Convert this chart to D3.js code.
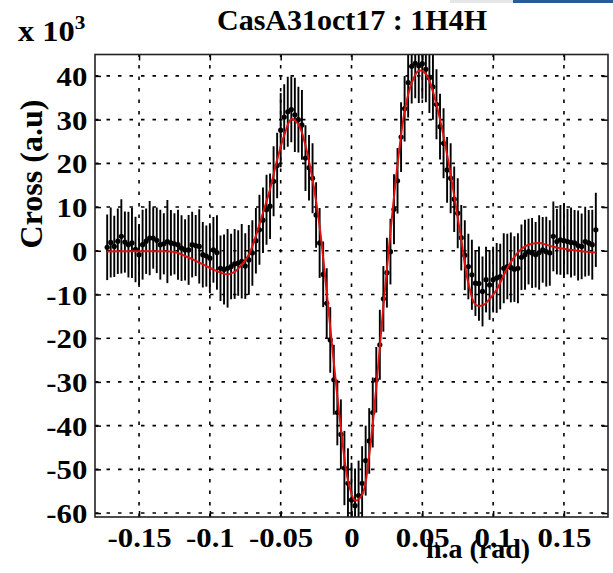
<!DOCTYPE html>
<html><head><meta charset="utf-8">
<script src="https://cdn.jsdelivr.net/npm/d3@7"></script>
<style>
html,body{margin:0;padding:0;background:#fff;}
svg text{font-family:"Liberation Serif","Times New Roman",serif;font-weight:bold;fill:#000;}
</style></head>
<body><svg id="chart" width="613" height="573"></svg>
<script>
// ---- data ----
const hourAngle = [
-0.1725,-0.1700,-0.1675,-0.1650,-0.1625,-0.1600,-0.1575,-0.1550,-0.1525,-0.1500,
-0.1475,-0.1450,-0.1425,-0.1400,-0.1375,-0.1350,-0.1325,-0.1300,-0.1275,-0.1250,
-0.1225,-0.1200,-0.1175,-0.1150,-0.1125,-0.1100,-0.1075,-0.1050,-0.1025,-0.1000,
-0.0975,-0.0950,-0.0925,-0.0900,-0.0875,-0.0850,-0.0825,-0.0800,-0.0775,-0.0750,
-0.0725,-0.0700,-0.0675,-0.0650,-0.0625,-0.0600,-0.0575,-0.0550,-0.0525,-0.0500,
-0.0475,-0.0450,-0.0425,-0.0400,-0.0375,-0.0350,-0.0325,-0.0300,-0.0275,-0.0250,
-0.0225,-0.0200,-0.0175,-0.0150,-0.0125,-0.0100,-0.0075,-0.0050,-0.0025,0.0000,
0.0025,0.0050,0.0075,0.0100,0.0125,0.0150,0.0175,0.0200,0.0225,0.0250,
0.0275,0.0300,0.0325,0.0350,0.0375,0.0400,0.0425,0.0450,0.0475,0.0500,
0.0525,0.0550,0.0575,0.0600,0.0625,0.0650,0.0675,0.0700,0.0725,0.0750,
0.0775,0.0800,0.0825,0.0850,0.0875,0.0900,0.0925,0.0950,0.0975,0.1000,
0.1025,0.1050,0.1075,0.1100,0.1125,0.1150,0.1175,0.1200,0.1225,0.1250,
0.1275,0.1300,0.1325,0.1350,0.1375,0.1400,0.1425,0.1450,0.1475,0.1500,
0.1525,0.1550,0.1575,0.1600,0.1625,0.1650,0.1675,0.1700,0.1725];
const crossVal = [
0.8,1.9,1.0,2.2,3.3,2.0,1.4,1.8,0.3,-0.9,
1.4,2.2,2.9,2.9,2.4,1.4,1.6,2.1,1.8,1.6,
1.4,0.6,0.2,0.2,1.4,1.2,1.0,-0.9,-1.2,-1.7,
0.2,-0.4,-4.0,-4.3,-4.0,-3.6,-3.0,-2.8,-2.4,-3.5,
-2.1,-0.5,2.3,4.8,7.0,9.4,10.2,15.9,19.5,27.6,
30.6,31.8,32.3,31.1,30.0,28.8,21.2,19.0,16.6,8.2,
1.8,-5.4,-12.0,-20.4,-29.5,-37.0,-42.0,-49.7,-53.2,-57.0,
-58.3,-56.0,-53.2,-48.0,-43.5,-37.0,-29.5,-21.5,-11.0,-5.0,
-0.2,9.5,16.0,26.0,32.5,38.5,42.2,42.9,42.3,42.8,
41.5,39.5,37.5,33.5,28.4,24.6,18.5,16.6,11.8,8.6,
3.0,-1.0,-3.6,-5.5,-7.4,-7.5,-9.3,-6.6,-7.8,-6.6,
-6.2,-5.9,-4.0,-3.6,-3.8,-4.2,-4.0,-1.5,-0.9,-0.2,
-0.5,-0.9,-0.4,0.2,-0.2,-0.5,3.3,2.1,2.5,2.3,
2.1,1.9,1.8,1.2,1.0,2.1,1.8,1.4,4.8];
const crossErr = [
7.5,8.0,7.0,7.5,8.5,7.0,7.5,8.0,7.5,7.0,
8.0,7.5,8.5,7.0,7.5,8.0,7.0,9.5,7.5,7.0,
8.0,7.5,7.0,8.0,7.5,7.0,8.5,7.5,7.0,8.0,
7.5,8.5,7.5,8.0,9.0,7.5,8.0,7.5,8.5,7.5,
8.0,7.5,7.5,8.0,7.5,8.0,7.5,8.0,7.5,8.5,
7.5,8.0,7.5,8.5,7.5,8.0,7.5,7.5,8.0,7.5,
8.0,7.5,8.0,7.5,8.0,7.5,8.0,8.5,8.0,8.5,
8.5,8.0,8.5,8.0,7.5,8.0,7.5,8.0,7.5,8.0,
7.5,8.0,7.5,8.0,7.5,8.0,8.5,8.0,8.5,8.0,
7.5,8.0,7.5,8.0,7.5,8.0,7.5,8.0,7.5,8.0,
7.5,8.0,7.5,8.0,7.5,8.5,8.0,7.5,8.0,7.5,
8.0,7.5,8.0,7.5,8.0,7.5,8.0,7.5,8.0,7.5,
8.0,7.5,8.5,7.5,8.0,7.5,8.0,7.5,8.0,8.5,
7.5,8.0,7.5,8.0,7.5,8.0,7.5,8.0,8.5];
const modelHA = [
-0.1725,-0.1675,-0.1625,-0.1575,-0.1525,-0.1475,-0.1425,-0.1375,-0.1325,-0.1275,
-0.1225,-0.1175,-0.1125,-0.1075,-0.1025,-0.0975,-0.0925,-0.0875,-0.0825,-0.0775,
-0.0725,-0.0675,-0.0625,-0.0575,-0.0525,-0.0475,-0.0425,-0.0375,-0.0325,-0.0275,
-0.0225,-0.0175,-0.0125,-0.0075,-0.0025,0.0025,0.0075,0.0125,0.0175,0.0225,
0.0275,0.0325,0.0375,0.0425,0.0475,0.0525,0.0575,0.0625,0.0675,0.0725,
0.0775,0.0825,0.0875,0.0925,0.0975,0.1025,0.1075,0.1125,0.1175,0.1225,
0.1275,0.1325,0.1375,0.1425,0.1475,0.1525,0.1575,0.1625,0.1675,0.1725];
const modelVal = [
-0.15,-0.1,-0.1,-0.1,-0.1,-0.1,-0.1,-0.1,-0.1,-0.15,
-0.5,-1.2,-1.9,-2.7,-3.5,-4.3,-5.0,-5.4,-4.8,-3.2,
-0.9,3.4,8.7,14.1,20.8,26.4,30.1,28.9,24.1,16.3,
5.5,-9.5,-25.5,-40.5,-52.5,-57.1,-55.8,-46.7,-31.2,-12.7,
4.2,19.7,31.9,38.4,41.2,40.5,36.4,30.0,22.0,12.6,
2.5,-7.4,-12.3,-12.5,-11.0,-8.9,-5.6,-2.6,-0.4,1.0,
1.6,1.8,1.4,0.9,0.6,0.3,0.1,-0.1,-0.25,-0.4];
const xTicks = [-0.15,-0.1,-0.05,0,0.05,0.1,0.15];
const xTickLabels = ["-0.15","-0.1","-0.05","0","0.05","0.1","0.15"];
const yTicks = [-60,-50,-40,-30,-20,-10,0,10,20,30,40];
const yTickLabels = ["-60","-50","-40","-30","-20","-10","0","10","20","30","40"];
const titleText = "CasA31oct17 : 1H4H";
const xLabelText = "h.a (rad)";
const yLabelText = "Cross (a.u)";

// ---- layout ----
const L = 95, R = 608, T = 54.5, B = 517;
const svg = d3.select("#chart");
const x = d3.scaleLinear().domain([-0.1811, 0.1811]).range([L, R]);
const y = d3.scaleLinear().domain([-60.9, 44.9]).range([B, T]);

// top strip decoration
svg.append("rect").attr("x",450).attr("y",0).attr("width",63).attr("height",3).attr("fill","#e6e6e6");
svg.append("rect").attr("x",513).attr("y",0).attr("width",100).attr("height",3).attr("fill","#2b5b94");

// grid
const grid = svg.append("g").attr("stroke","#000").attr("stroke-width",1.6).attr("stroke-dasharray","3.5,8");
grid.selectAll(".gx").data(xTicks).join("line")
  .attr("x1",d=>x(d)).attr("x2",d=>x(d)).attr("y1",B).attr("y2",T);
grid.selectAll(".gy").data(yTicks).join("line")
  .attr("x1",L).attr("x2",R).attr("y1",d=>y(d)).attr("y2",d=>y(d));

// clip
svg.append("clipPath").attr("id","clip").append("rect")
  .attr("x",L).attr("y",T).attr("width",R-L).attr("height",B-T);
const plot = svg.append("g").attr("clip-path","url(#clip)");

const pts = hourAngle.map((h,i)=>({h, v:crossVal[i], e:crossErr[i]}));
plot.append("g").selectAll("line").data(pts).join("line")
  .attr("x1",d=>x(d.h)).attr("x2",d=>x(d.h))
  .attr("y1",d=>y(d.v-d.e)).attr("y2",d=>y(d.v+d.e))
  .attr("stroke","#000").attr("stroke-width",1.9);
plot.append("g").selectAll("circle").data(pts).join("circle")
  .attr("cx",d=>x(d.h)).attr("cy",d=>y(d.v)).attr("r",2.6).attr("fill","#000");
const model = modelHA.map((h,i)=>[h, modelVal[i]]);
plot.append("path").datum(model)
  .attr("d", d3.line().x(d=>x(d[0])).y(d=>y(d[1])).curve(d3.curveCatmullRom.alpha(0.5)))
  .attr("fill","none").attr("stroke","#e01010").attr("stroke-width",2);

// axes
const fs = 28;
const axBottom = svg.append("g").attr("transform",`translate(0,${B})`)
  .call(d3.axisBottom(x).tickValues(xTicks).tickFormat((d,i)=>xTickLabels[i]).tickSize(-6).tickPadding(10));
const axLeft = svg.append("g").attr("transform",`translate(${L},0)`)
  .call(d3.axisLeft(y).tickValues(yTicks).tickFormat((d,i)=>yTickLabels[i]).tickSize(-6).tickPadding(7));
const axTop = svg.append("g").attr("transform",`translate(0,${T})`)
  .call(d3.axisTop(x).tickValues(xTicks).tickFormat("").tickSize(-6));
const axRight = svg.append("g").attr("transform",`translate(${R},0)`)
  .call(d3.axisRight(y).tickValues(yTicks).tickFormat("").tickSize(-6));
[axBottom,axLeft,axTop,axRight].forEach(g=>{
  g.select(".domain").remove();
  g.selectAll(".tick line").attr("stroke","#000").attr("stroke-width",1.5);
  g.selectAll("text").attr("font-size",fs).attr("font-family",null).attr("fill","#000")
    .attr("transform","scale(1.1,1)");
});
axLeft.selectAll("text").attr("dy","0.34em");

// box
svg.append("rect").attr("x",L).attr("y",T).attr("width",R-L).attr("height",B-T)
  .attr("fill","none").attr("stroke","#222").attr("stroke-width",1.6);

// texts
svg.append("text").attr("x",352).attr("y",30).attr("text-anchor","middle")
  .attr("font-size",30).text(titleText);
svg.append("text").attr("x",478).attr("y",558).attr("text-anchor","middle")
  .attr("font-size",28).text(xLabelText);
svg.append("text").attr("transform","translate(42,174) rotate(-90)").attr("text-anchor","middle")
  .attr("font-size",32).text(yLabelText);
const ex = svg.append("text").attr("transform","translate(18,41) scale(1.12,1)").attr("font-size",29);
ex.append("tspan").text("x 10");
ex.append("tspan").attr("font-size",19).attr("dy",-12).text("3");
</script></body></html>
